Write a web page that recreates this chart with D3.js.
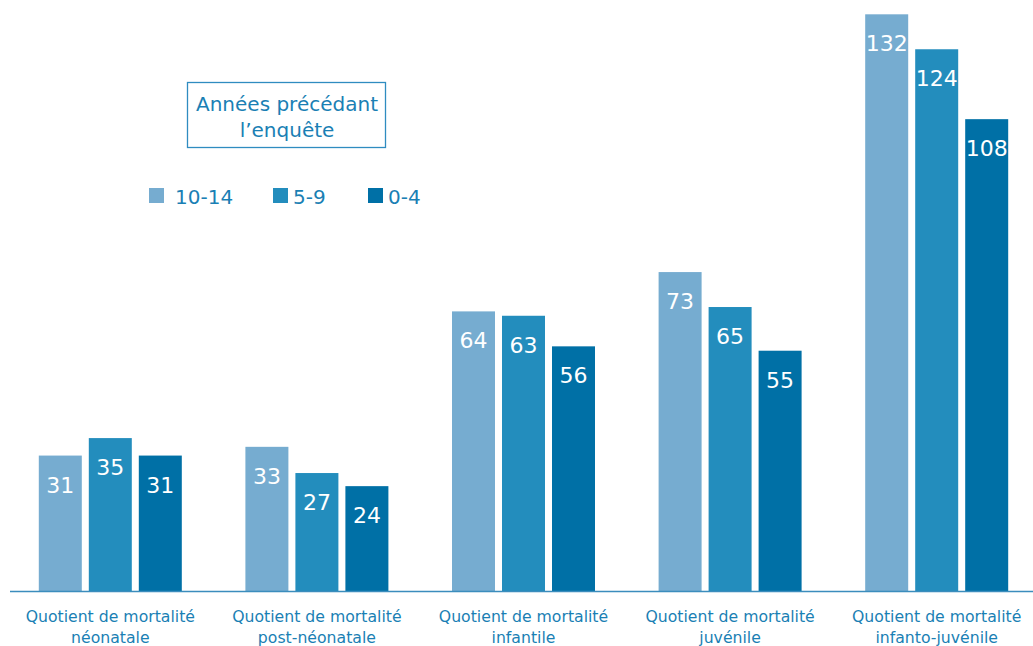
<!DOCTYPE html>
<html><head><meta charset="utf-8">
<script src="https://cdn.jsdelivr.net/npm/d3@7"></script>
<style>body{margin:0;background:#fff;}svg{display:block;}</style>
</head><body>
<svg id="c" width="1033" height="646"></svg>
<script>
const categories = [["Quotient de mortalité","néonatale"],["Quotient de mortalité","post-néonatale"],["Quotient de mortalité","infantile"],["Quotient de mortalité","juvénile"],["Quotient de mortalité","infanto-juvénile"]];
const seriesNames = ["10-14","5-9","0-4"];
const s1014 = [31,33,64,73,132];
const s59 = [35,27,63,65,124];
const s04 = [31,24,56,55,108];
const seriesValues = [s1014, s59, s04];
const colors = ["#76acd0","#238dbd","#0070a6"];
const textColor = "#1a7fb4";
const font = "'DejaVu Sans', sans-serif";

const svg = d3.select("#c");
const base = 591;
const y = d3.scaleLinear().domain([0,132.3]).range([base, 13]);
const x0 = d3.scaleBand().domain(d3.range(categories.length)).range([7,1040]).paddingInner(0).paddingOuter(0);
const x1 = d3.scaleBand().domain(d3.range(3)).range([0,143]).paddingInner(7/50).paddingOuter(0);
const off = (x0.bandwidth()-143)/2;

categories.forEach((c,i)=>{
  const g = svg.append("g").attr("transform",`translate(${x0(i)+off},0)`);
  seriesValues.forEach((vals,j)=>{
    const v = vals[i];
    g.append("rect").attr("x",x1(j)).attr("width",x1.bandwidth()).attr("y",y(v)).attr("height",base-y(v)).attr("fill",colors[j]);
    g.append("text").attr("x",x1(j)+x1.bandwidth()/2).attr("y",y(v)+37).attr("text-anchor","middle")
      .attr("fill","#fff").attr("font-family",font).attr("font-size",22).text(v);
  });
});
svg.append("line").attr("x1",10).attr("x2",1033).attr("y1",base+0.5).attr("y2",base+0.5).attr("stroke","#3b8dbd").attr("stroke-width",1.5);

categories.forEach((c,i)=>{
  const cx = x0(i)+x0.bandwidth()/2;
  c.forEach((line,k)=>{
    svg.append("text").attr("x",cx).attr("y",622+k*21).attr("text-anchor","middle")
      .attr("fill",textColor).attr("font-family",font).attr("font-size",15.7).text(line);
  });
});

// legend
svg.append("rect").attr("x",187.5).attr("y",82.5).attr("width",198).attr("height",65).attr("fill","none").attr("stroke","#2f8cc0").attr("stroke-width",1.3);
svg.append("text").attr("x",287).attr("y",111).attr("text-anchor","middle").attr("fill",textColor).attr("font-family",font).attr("font-size",20).text("Années précédant");
svg.append("text").attr("x",287).attr("y",137).attr("text-anchor","middle").attr("fill",textColor).attr("font-family",font).attr("font-size",20).text("l’enquête");
const legX = [149,273,368];
seriesNames.forEach((n,j)=>{
  svg.append("rect").attr("x",legX[j]).attr("y",188).attr("width",15).attr("height",15).attr("fill",colors[j]);
  svg.append("text").attr("x",legX[j]+(j==0?26:20)).attr("y",203.5).attr("fill",textColor).attr("font-family",font).attr("font-size",20).text(n);
});
</script>
</body></html>
